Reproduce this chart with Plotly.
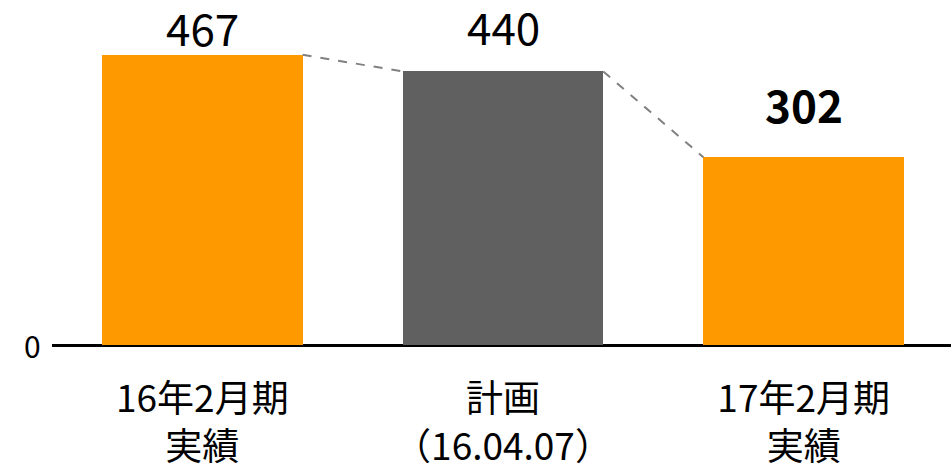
import plotly.graph_objects as go

categories = ["16年2月期<br>実績", "計画<br>（16.04.07）", "17年2月期<br>実績"]
values = [467, 440, 302]
colors = ["#FF9900", "#606060", "#FF9900"]
label_bold = [False, False, True]
label_shift = [-6, 11, 19]

x = list(range(len(values)))
bw = 0.667

fig = go.Figure()
fig.add_trace(go.Bar(x=x, y=values, width=bw, marker_color=colors,
                     marker_line_width=0, hoverinfo="skip"))

# dashed connectors between adjacent bar tops
for i in range(len(values) - 1):
    fig.add_trace(go.Scatter(x=[x[i] + bw / 2, x[i + 1] - bw / 2],
                             y=[values[i], values[i + 1]], mode="lines",
                             line=dict(color="#808080", width=2, dash="dash"),
                             hoverinfo="skip"))

for i, v in enumerate(values):
    txt = f"<b>{v}</b>" if label_bold[i] else str(v)
    fig.add_annotation(x=x[i], y=v, text=txt, showarrow=False, yanchor="bottom",
                       yshift=label_shift[i],
                       font=dict(size=44, color="#000000", family="Noto Sans CJK JP"))

# y-axis zero label
fig.add_annotation(xref="paper", x=0, y=0, text="0", showarrow=False,
                   xanchor="right", xshift=-9, yanchor="middle",
                   font=dict(size=30, color="#000000", family="Noto Sans CJK JP"))

fig.update_layout(
    width=951, height=468, margin=dict(l=52, r=0, t=0, b=123, autoexpand=False),
    paper_bgcolor="white", plot_bgcolor="white", showlegend=False,
    bargap=0,
    font=dict(family="Noto Sans CJK JP", color="#000000"),
    xaxis=dict(range=[-0.5, 2.49], tickvals=x, ticktext=categories,
               showgrid=False, zeroline=False, showline=False, ticks="",
               ticklabelstandoff=29, automargin=False,
               tickfont=dict(size=37, color="#000000", family="Noto Sans CJK JP")),
    yaxis=dict(range=[0, 555], showticklabels=False, automargin=False,
               showgrid=False, zeroline=True, zerolinecolor="#000000",
               zerolinewidth=3, showline=False, ticks=""),
)
fig.write_html("out.html")
